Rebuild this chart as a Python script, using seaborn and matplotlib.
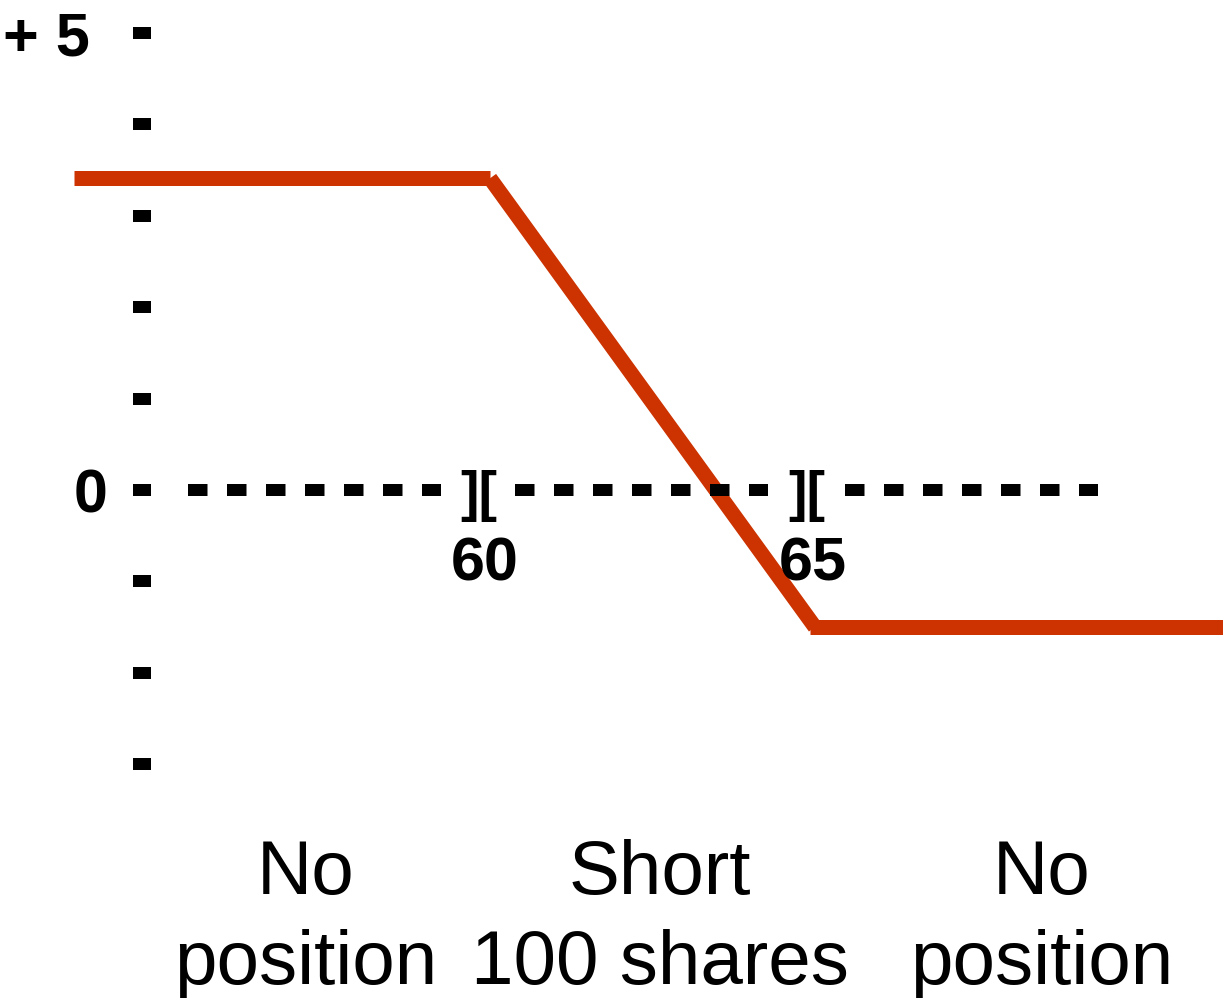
import matplotlib
matplotlib.use("Agg")
import matplotlib.pyplot as plt
import seaborn as sns

# ---- data ----
payoff_price = [53.6, 60.0, 65.0, 71.3]
payoff_value = [3.41, 3.41, -1.50, -1.50]
y_ticks = [-3, -2, -1, 0, 1, 2, 3, 4, 5]
zero_segments = [(55.354, 59.246), (60.385, 64.277), (65.462, 69.354)]
strikes = [60, 65]
strike_labels = ["60", "65"]
region_labels = ["No\nposition", "Short\n100 shares", "No\nposition"]
region_centers = [57.17, 62.615, 68.492]

sns.set_theme(style="white")
plt.rcParams["font.family"] = ["Liberation Sans", "DejaVu Sans"]

RED = "#CC3300"
fig = plt.figure(figsize=(12.23, 9.98), dpi=100)
ax = fig.add_axes([0, 0, 1, 1])
ax.set_xlim(52.4615, 71.2769)
ax.set_ylim(-5.558, 5.361)

# payoff line, drawn as three segments (butt caps like the reference)
segs = [
    (payoff_price[0:2], payoff_value[0:2]),
    (payoff_price[1:3], payoff_value[1:3]),
    ([64.92, payoff_price[3]], payoff_value[2:4]),
]
for xs, ys in segs:
    sns.lineplot(x=xs, y=ys, ax=ax, color=RED, linewidth=10.8,
                 estimator=None, sort=False, solid_capstyle="butt")

# dashed zero line
for x0, x1 in zero_segments:
    ax.plot([x0, x1], [0, 0], color="black", linewidth=8.64,
            dashes=(1.625, 1.625), dash_capstyle="butt", solid_capstyle="butt")

# y ticks as short dashes
for s in ["top", "right", "bottom", "left"]:
    ax.spines[s].set_visible(False)
ax.spines["left"].set_position(("data", 54.646))
ax.set_xticks([])
ax.set_yticks(y_ticks)
ax.set_yticklabels([""] * len(y_ticks))
ax.tick_params(axis="y", direction="inout", length=12.96, width=8.64,
               color="black", left=True)

bold = dict(fontweight="bold", color="black", fontsize=44)
ax.text(53.846, 4.759, "+ 5", ha="right", va="baseline", **bold)
ax.text(54.108, -0.2516, "0", ha="right", va="baseline", **bold)

# strike brackets and labels
for xb, xl, lab in zip([59.823, 64.869], [59.923, 64.962], strike_labels):
    ax.text(xb, -0.224, "][", ha="center", va="baseline",
            fontweight="bold", fontsize=40, color="black")
    ax.text(xl, -0.985, lab, ha="center", va="baseline", **bold)

# region labels
for xc, lab in zip(region_centers, region_labels):
    ax.text(xc, -5.40, lab, ha="center", va="baseline", fontsize=55,
            color="black", linespacing=1.33, multialignment="center")

fig.savefig("out.png", dpi=100)
